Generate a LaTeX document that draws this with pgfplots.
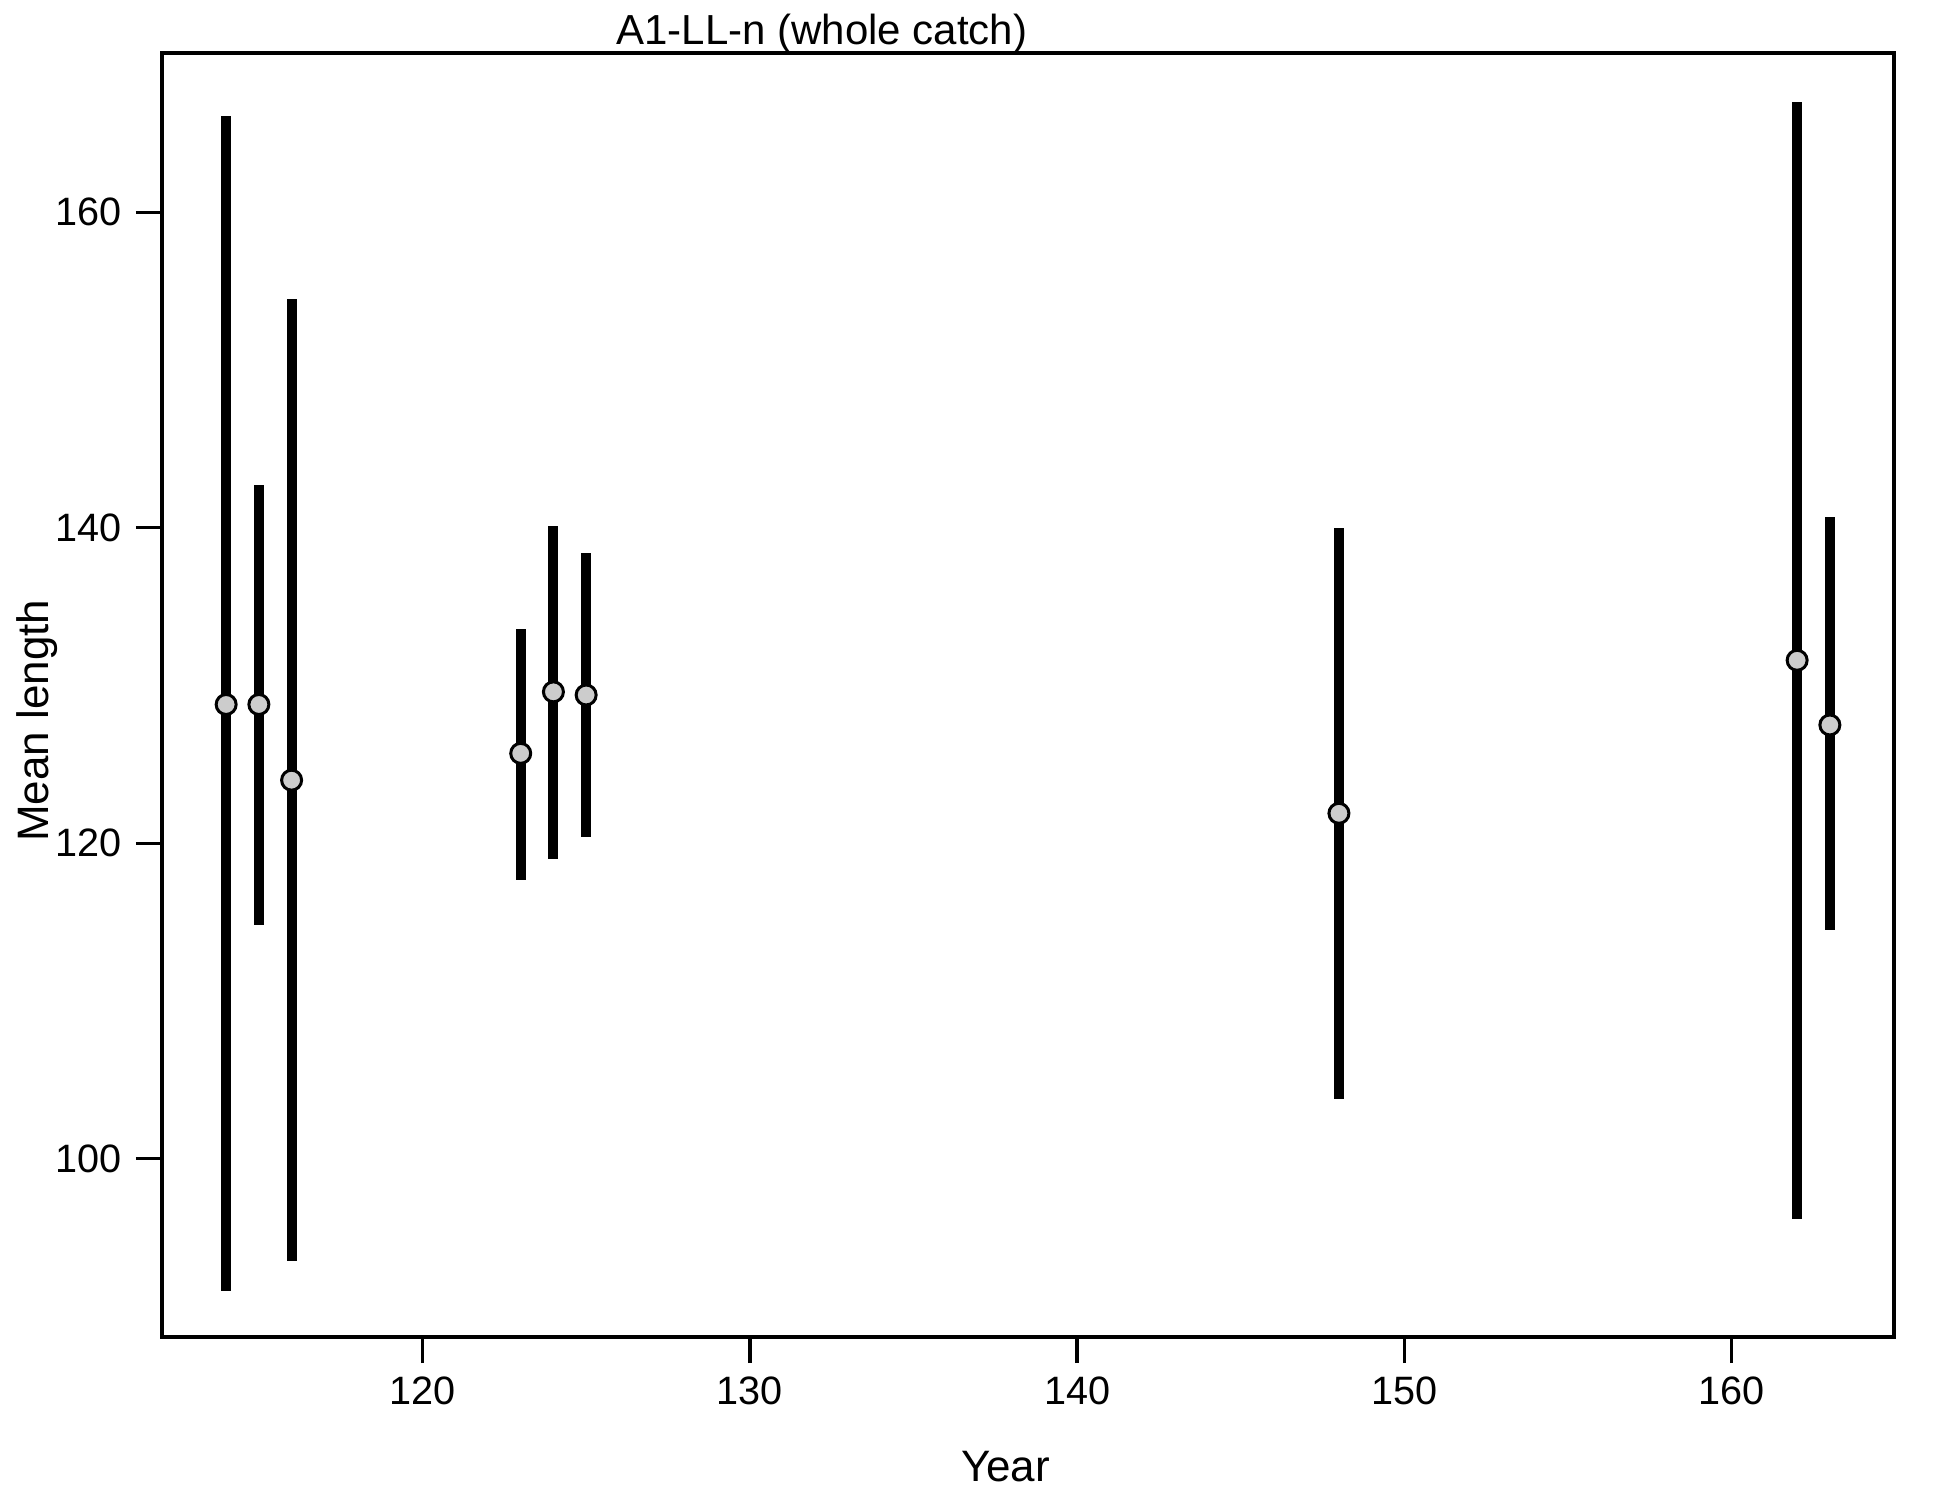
\documentclass[border=0pt]{standalone}
\usepackage{pgfplots}
\pgfplotsset{compat=1.18}
\usepackage{fontspec}
\setmainfont{Liberation Sans}
\definecolor{ptfill}{HTML}{CCCCCC}
\begin{document}
\begin{tikzpicture}
\begin{axis}[
  scale only axis,
  width=433pt, height=321pt,
  xmin=112.04, xmax=164.96,
  ymin=88.7, ymax=170.1,
  axis line style={line width=0.85pt},
  xtick={120,130,140,150,160},
  ytick={100,120,140,160},
  tick align=outside,
  tick pos=left,
  major tick length=6.5pt,
  every tick/.style={line width=0.85pt, black},
  /pgf/number format/assume math mode=true,
  tick label style={font=\fontsize{9.9}{12}\selectfont},
  xlabel={Year}, ylabel={Mean length},
  every axis x label/.style={at={(axis description cs:0.487,-0.101)}, anchor=center, font=\fontsize{11}{13}\selectfont},
  every axis y label/.style={at={(axis description cs:-0.0722,0.48)}, anchor=center, rotate=90, font=\fontsize{11}{13}\selectfont},
  clip=false,
]
\addplot[draw=none, mark=none,
  error bars/.cd, y dir=both, y explicit,
  error bar style={line width=2.5pt, black, line cap=butt},
  error mark=none]
  table[x=x, y=y, y error plus expr=\thisrow{hi}-\thisrow{y}, y error minus expr=\thisrow{y}-\thisrow{lo}] {
x   y     lo    hi
114 128.8 91.6  166.1
115 128.8 114.8 142.7
116 124.0 93.5  154.5
123 125.7 117.7 133.6
124 129.6 119.0 140.1
125 129.4 120.4 138.4
148 121.9 103.8 140.0
162 131.6 96.2  167.0
163 127.5 114.5 140.7
};
\addplot[only marks, mark=*, mark size=2.5pt, mark options={fill=ptfill, draw=black, line width=0.75pt}]
  table[x=x, y=y] {
x   y
114 128.8
115 128.8
116 124.0
123 125.7
124 129.6
125 129.4
148 121.9
162 131.6
163 127.5
};
\node[anchor=base, font=\fontsize{10.5}{12}\selectfont] at (axis description cs:0.381,1) [yshift=2pt] {A1-LL-n (whole catch)};
\path (axis description cs:0,0) ++(-40.5pt,-40.75pt) coordinate (bbl);
\path (axis description cs:1,1) ++(14pt,13.25pt) coordinate (btr);
\end{axis}
\path[use as bounding box] (bbl) rectangle (btr);
\end{tikzpicture}
\end{document}
